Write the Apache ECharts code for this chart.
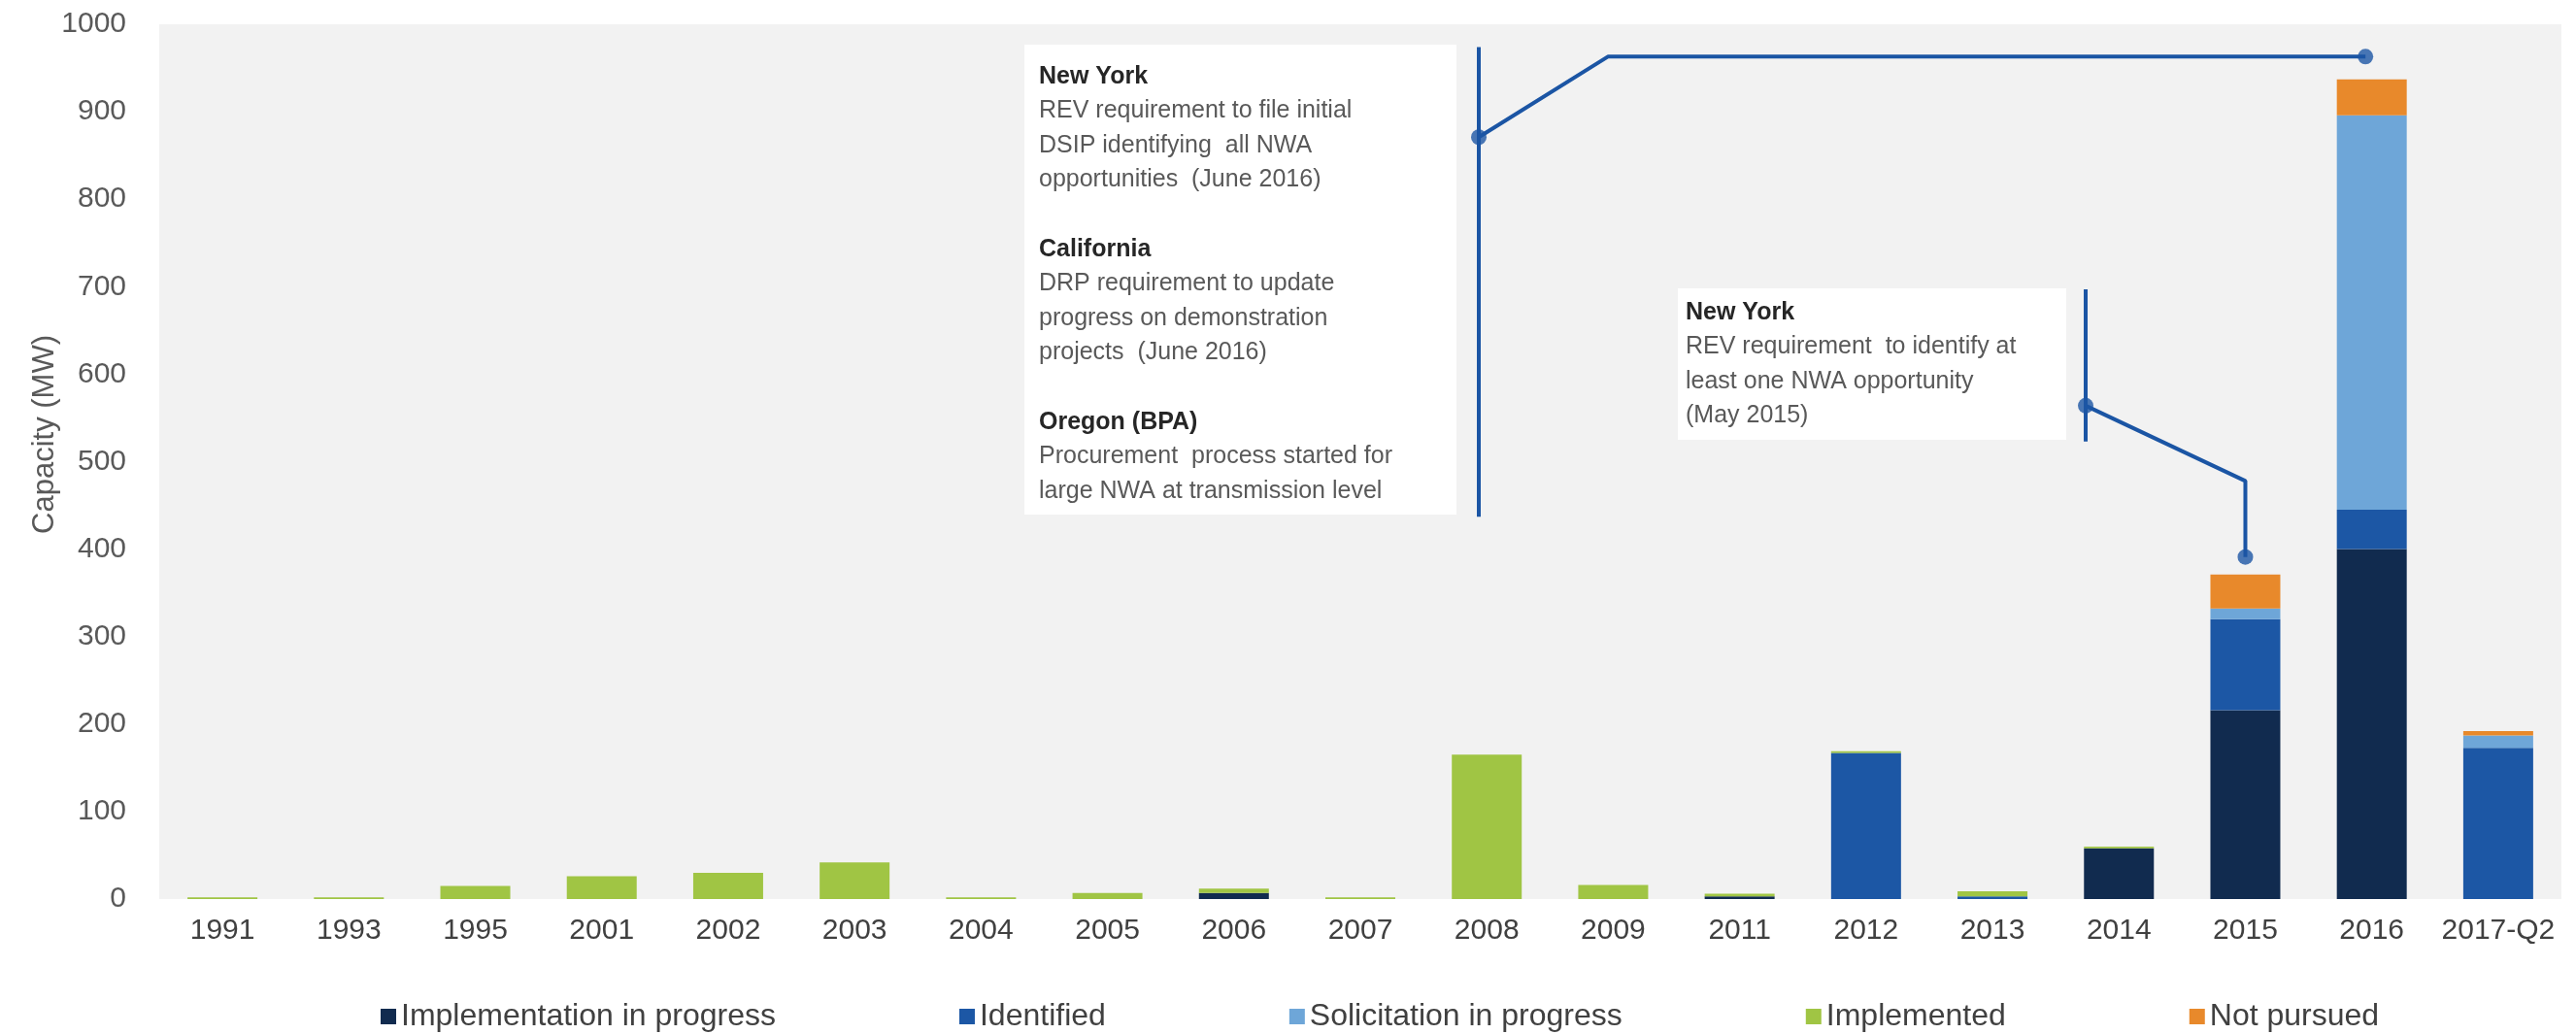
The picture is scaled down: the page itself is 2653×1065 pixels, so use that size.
<!DOCTYPE html>
<html>
<head>
<meta charset="utf-8">
<title>NWA capacity by year</title>
<script src="https://cdn.jsdelivr.net/npm/echarts@6/dist/echarts.min.js"></script>
<style>
  html, body { margin: 0; padding: 0; background: #ffffff; }
  #chart { width: 2653px; height: 1065px; }
</style>
</head>
<body>
<div id="chart"></div>
<script>
// Categories (years) on the x axis
const categories = ['1991', '1993', '1995', '2001', '2002', '2003', '2004', '2005', '2006', '2007',
  '2008', '2009', '2011', '2012', '2013', '2014', '2015', '2016', '2017-Q2'];

// Capacity (MW) by project status, stacked bottom to top
const implementationInProgress = [0, 0, 0, 0, 0, 0, 0, 0, 7, 0, 0, 0, 3, 0, 0, 58, 216, 400, 0];
const identified               = [0, 0, 0, 0, 0, 0, 0, 0, 0, 0, 0, 0, 0, 167, 3, 0, 104, 45, 173];
const solicitationInProgress   = [0, 0, 0, 0, 0, 0, 0, 0, 0, 0, 0, 0, 0, 0, 0, 0, 12, 451, 14];
const implemented              = [2, 2, 15, 26, 30, 42, 2, 7, 5, 2, 165, 16, 3, 2, 6, 2, 0, 0, 0];
const notPursued               = [0, 0, 0, 0, 0, 0, 0, 0, 0, 0, 0, 0, 0, 0, 0, 0, 39, 41, 5];

const seriesNames = ['Implementation in progress', 'Identified', 'Solicitation in progress', 'Implemented', 'Not pursued'];
const seriesColors = ['#112b4f', '#1c57a5', '#6ea6d8', '#a0c544', '#e8892b'];

// Y axis ticks
const yTicks = { min: 0, max: 1000, step: 100 };

// Callout leader lines, in [category index, MW] units
const calloutA_bar = [[9.937, 974], [9.937, 437]];
const calloutA_path = [[9.937, 871], [10.958, 963], [16.95, 963]];
const calloutB_bar = [[14.737, 697], [14.737, 523]];
const calloutB_path = [[14.737, 564], [16, 478], [16, 391]];
const calloutDots = [[9.937, 871], [16.95, 963], [14.737, 564], [16, 391]];

// Callout texts
const calloutA_text = [
  ['New York', ['REV requirement to file initial', 'DSIP identifying  all NWA', 'opportunities  (June 2016)']],
  ['California', ['DRP requirement to update', 'progress on demonstration', 'projects  (June 2016)']],
  ['Oregon (BPA)', ['Procurement  process started for', 'large NWA at transmission level']]
];
const calloutB_text = [
  ['New York', ['REV requirement  to identify at', 'least one NWA opportunity', '(May 2015)']]
];

const FONT = '"Liberation Sans", Arial, sans-serif';
const LINE_COLOR = '#1b55a4';

function richBlock(groups) {
  return groups.map(g => '{h|' + g[0] + '}\n' + g[1].map(l => '{b|' + l + '}').join('\n')).join('\n\n');
}

const textRich = {
  h: { fontFamily: FONT, fontSize: 25, fontWeight: 'bold', fill: '#262626', lineHeight: 35.6 },
  b: { fontFamily: FONT, fontSize: 25, fill: '#595959', lineHeight: 35.6 }
};

const barSeries = [implementationInProgress, identified, solicitationInProgress, implemented, notPursued]
  .map((vals, i) => ({
    name: seriesNames[i],
    type: 'bar',
    stack: 'capacity',
    barWidth: 72,
    xAxisIndex: 0,
    yAxisIndex: 0,
    itemStyle: { color: seriesColors[i] },
    data: vals,
    z: 2
  }));

function leader(data) {
  return {
    type: 'line',
    xAxisIndex: 1,
    yAxisIndex: 0,
    data: data,
    showSymbol: false,
    symbol: 'none',
    silent: true,
    lineStyle: { color: LINE_COLOR, width: 4 },
    z: 5
  };
}

const chart = echarts.init(document.getElementById('chart'), null, { renderer: 'canvas' });

chart.setOption({
  backgroundColor: '#ffffff',
  animation: false,
  grid: {
    left: 164, right: 15, top: 25, bottom: 139,
    show: true, backgroundColor: '#f2f2f2', borderWidth: 0
  },
  legend: {
    data: seriesNames,
    left: 387,
    top: 1026,
    icon: 'rect',
    itemWidth: 16,
    itemHeight: 16,
    itemGap: 189,
    textStyle: { fontFamily: FONT, fontSize: 32, color: '#404040' }
  },
  xAxis: [
    {
      type: 'category',
      data: categories,
      axisLine: { show: false },
      axisTick: { show: false },
      axisLabel: { interval: 0, fontFamily: FONT, fontSize: 30, color: '#404040', margin: 18 }
    },
    {
      type: 'value',
      min: -0.5,
      max: 18.5,
      show: false
    }
  ],
  yAxis: {
    type: 'value',
    min: yTicks.min,
    max: yTicks.max,
    interval: yTicks.step,
    splitLine: { show: false },
    axisLine: { show: false },
    axisTick: { show: false },
    axisLabel: {
      fontFamily: FONT, fontSize: 30, color: '#595959', margin: 34,
      formatter: v => String(v)
    }
  },
  series: barSeries.concat([
    leader(calloutA_bar),
    leader(calloutA_path),
    leader(calloutB_bar),
    leader(calloutB_path),
    {
      type: 'scatter',
      xAxisIndex: 1,
      yAxisIndex: 0,
      data: calloutDots,
      symbol: 'circle',
      symbolSize: 16,
      silent: true,
      itemStyle: { color: LINE_COLOR },
      z: 6
    }
  ]),
  graphic: [
    {
      type: 'text',
      left: 31,
      top: 345,
      rotation: Math.PI / 2,
      style: {
        text: 'Capacity (MW)',
        font: '31px ' + FONT,
        fill: '#595959'
      }
    },
    {
      type: 'rect',
      shape: { x: 1055, y: 46, width: 445, height: 484 },
      style: { fill: '#ffffff' },
      z: 1
    },
    {
      type: 'text',
      x: 1070,
      y: 61,
      style: {
        text: richBlock(calloutA_text),
        rich: textRich,
        font: '25px ' + FONT,
        lineHeight: 35.6,
        fill: '#595959'
      },
      z: 3
    },
    {
      type: 'rect',
      shape: { x: 1728, y: 297, width: 400, height: 156 },
      style: { fill: '#ffffff' },
      z: 1
    },
    {
      type: 'text',
      x: 1736,
      y: 304,
      style: {
        text: richBlock(calloutB_text),
        rich: textRich,
        font: '25px ' + FONT,
        lineHeight: 36.5,
        fill: '#595959'
      },
      z: 3
    }
  ]
});
</script>
</body>
</html>
